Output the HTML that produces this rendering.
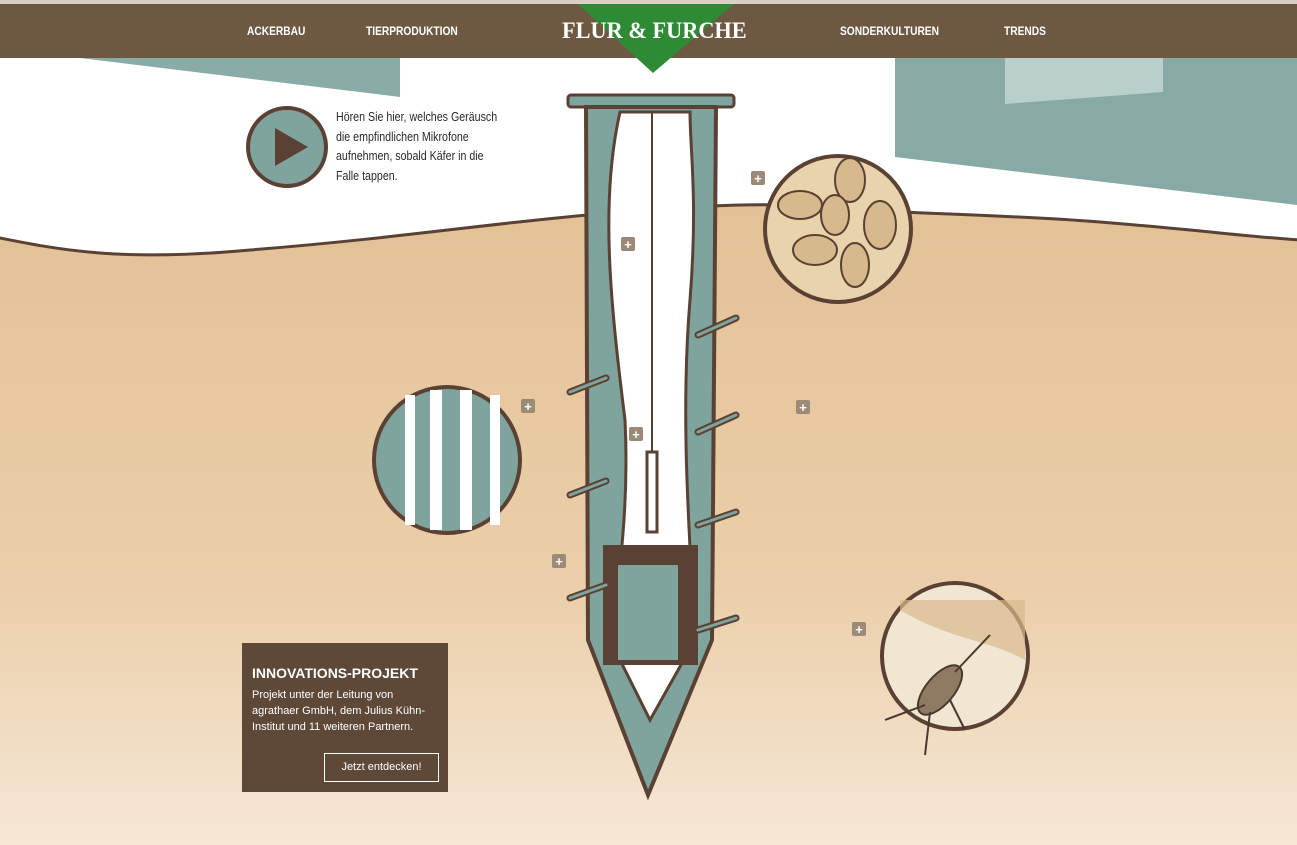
<!DOCTYPE html>
<html><head><meta charset="utf-8"><style>
html,body{margin:0;padding:0;width:1297px;height:845px;overflow:hidden;background:#fff;font-family:"Liberation Sans",sans-serif}
.t{position:absolute;font-family:"Liberation Sans",sans-serif}
.n{color:#fff;font-size:12px;font-weight:bold;transform-origin:0 0;transform:scaleX(0.85);top:24px}
</style></head><body>
<svg width="1297" height="845" style="position:absolute;left:0;top:0">
<defs>
<linearGradient id="g" x1="0" y1="0" x2="0" y2="1">
<stop offset="0" stop-color="#e3c197"/><stop offset="0.6" stop-color="#ebcfaa"/><stop offset="1" stop-color="#f6e8d6"/>
</linearGradient>
</defs>
<rect width="1297" height="845" fill="#fff"/>
<polygon points="80,58 400,58 400,97" fill="#8aaca6"/>
<polygon points="895,58 1297,58 1297,205 895,157" fill="#88aaa4"/>
<polygon points="1005,58 1163,58 1163,92 1005,104" fill="#b9cfcb"/>
<path d="M-5,237 C60,250 120,262 250,250 C400,238 500,222 600,214 C700,205 760,203 800,206 C900,214 1000,214 1100,222 C1200,230 1260,238 1302,240 L1302,850 L-5,850 Z" fill="url(#g)"/>
<path d="M-5,237 C60,250 120,262 250,250 C400,238 500,222 600,214 C700,205 760,203 800,206 C900,214 1000,214 1100,222 C1200,230 1260,238 1302,240" fill="none" stroke="#5a4133" stroke-width="3"/>
<rect x="0" y="0" width="1297" height="4" fill="#d8d0c4"/>
<rect x="0" y="4" width="1297" height="54" fill="#6d5842"/>
<polygon points="578,4 734,4 653,73" fill="#2f8a36"/>
<circle cx="287" cy="147" r="39" fill="#7fa39d" stroke="#5a4133" stroke-width="4"/>
<polygon points="275,128 275,166 308,147" fill="#5a4133"/>
<rect x="568" y="95" width="166" height="12" rx="3" fill="#7fa39d" stroke="#5a4133" stroke-width="3"/>
<path d="M586,107 L716,107 L712,640 L648,795 L588,640 Z" fill="#7fa39d" stroke="#5a4133" stroke-width="4"/>
<path d="M620,112 C600,200 610,300 625,420 C630,520 615,600 610,640 L650,720 L695,640 C690,540 680,420 690,300 C698,200 690,150 690,112 Z" fill="#fff" stroke="#5a4133" stroke-width="3"/>
<line x1="652" y1="112" x2="652" y2="455" stroke="#5a4133" stroke-width="2"/>
<rect x="647" y="452" width="10" height="80" fill="#fff" stroke="#5a4133" stroke-width="3"/>
<rect x="603" y="545" width="95" height="120" fill="#5a4133"/>
<rect x="618" y="565" width="60" height="95" fill="#7fa39d"/>
<g stroke="#5a4133" stroke-width="7" stroke-linecap="round" fill="none">
<line x1="570" y1="392" x2="606" y2="378"/><line x1="570" y1="495" x2="606" y2="481"/><line x1="570" y1="598" x2="606" y2="585"/>
<line x1="698" y1="335" x2="736" y2="318"/><line x1="698" y1="432" x2="736" y2="415"/><line x1="698" y1="525" x2="736" y2="512"/><line x1="698" y1="630" x2="736" y2="618"/>
</g>
<g stroke="#7fa39d" stroke-width="3" stroke-linecap="round" fill="none">
<line x1="570" y1="392" x2="606" y2="378"/><line x1="570" y1="495" x2="606" y2="481"/><line x1="570" y1="598" x2="606" y2="585"/>
<line x1="698" y1="335" x2="736" y2="318"/><line x1="698" y1="432" x2="736" y2="415"/><line x1="698" y1="525" x2="736" y2="512"/><line x1="698" y1="630" x2="736" y2="618"/>
</g>
<circle cx="838" cy="229" r="73" fill="#e9d3ad" stroke="#5a4133" stroke-width="4"/>
<g fill="#d6b98c" stroke="#5a4133" stroke-width="2">
<ellipse cx="800" cy="205" rx="22" ry="14"/><ellipse cx="850" cy="180" rx="15" ry="22"/><ellipse cx="880" cy="225" rx="16" ry="24"/><ellipse cx="815" cy="250" rx="22" ry="15"/><ellipse cx="855" cy="265" rx="14" ry="22"/><ellipse cx="835" cy="215" rx="14" ry="20"/>
</g>
<circle cx="447" cy="460" r="73" fill="#7fa39d" stroke="#5a4133" stroke-width="4"/>
<g fill="#fff"><rect x="405" y="395" width="10" height="130"/><rect x="430" y="390" width="12" height="140"/><rect x="460" y="390" width="12" height="140"/><rect x="490" y="395" width="10" height="130"/></g>
<circle cx="955" cy="656" r="73" fill="#f1e6d2" stroke="#5a4133" stroke-width="4"/>
<path d="M900,610 C950,640 990,640 1025,660 L1025,600 L900,600 Z" fill="#d8b98c" opacity="0.7"/>
<ellipse cx="940" cy="690" rx="14" ry="30" transform="rotate(40 940 690)" fill="#8f7a63" stroke="#4a3a2e" stroke-width="2"/>
<g stroke="#4a3a2e" stroke-width="2"><line x1="955" y1="672" x2="990" y2="635"/><line x1="925" y1="705" x2="885" y2="720"/><line x1="930" y1="712" x2="925" y2="755"/><line x1="950" y1="700" x2="965" y2="730"/></g>
<g fill="#9c8a76"><rect x="751" y="171" width="14" height="14" rx="2"/><rect x="621" y="237" width="14" height="14" rx="2"/><rect x="521" y="399" width="14" height="14" rx="2"/><rect x="629" y="427" width="14" height="14" rx="2"/><rect x="796" y="400" width="14" height="14" rx="2"/><rect x="552" y="554" width="14" height="14" rx="2"/><rect x="852" y="622" width="14" height="14" rx="2"/></g>
<g fill="#fff" font-size="13" font-weight="bold" text-anchor="middle" font-family="Liberation Sans">
<text x="758" y="183">+</text><text x="628" y="249">+</text><text x="528" y="411">+</text><text x="636" y="439">+</text><text x="803" y="412">+</text><text x="559" y="566">+</text><text x="859" y="634">+</text></g>
</svg>
<div class="t n" style="left:247px">ACKERBAU</div>
<div class="t n" style="left:366px">TIERPRODUKTION</div>
<div class="t" style="left:562px;top:18px;color:#fff;font-size:23px;font-weight:bold;font-family:'Liberation Serif',serif;transform-origin:0 0;transform:scaleX(0.97)">FLUR &amp; FURCHE</div>
<div class="t n" style="left:840px">SONDERKULTUREN</div>
<div class="t n" style="left:1004px">TRENDS</div>
<div class="t" style="left:336px;top:107px;color:#2a2a2a;font-size:13px;line-height:19.5px;width:208px;transform-origin:0 0;transform:scaleX(0.82)">Hören Sie hier, welches Geräusch die empfindlichen Mikrofone aufnehmen, sobald Käfer in die Falle tappen.</div>
<div class="t" style="left:242px;top:643px;width:206px;height:149px;background:#5e4838;color:#fff">
<div style="position:absolute;left:10px;top:22px;font-size:14px;font-weight:bold">INNOVATIONS-PROJEKT</div>
<div style="position:absolute;left:10px;top:44px;font-size:11px;line-height:16px;width:190px">Projekt unter der Leitung von agrathaer GmbH, dem Julius Kühn-Institut und 11 weiteren Partnern.</div>
<div style="position:absolute;left:82px;top:110px;width:115px;height:29px;border:1px solid #fff;box-sizing:border-box;font-size:11px;text-align:center;line-height:27px">Jetzt entdecken!</div>
</div>
</body></html>
